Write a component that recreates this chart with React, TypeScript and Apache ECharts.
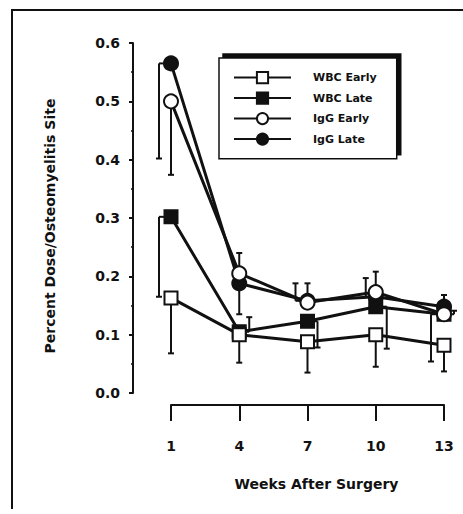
import React, { useEffect, useRef } from "react";
import * as echarts from "echarts";

// Weeks after surgery at which uptake was measured
const weeks = [1, 4, 7, 10, 13];
const xTicks = [1, 4, 7, 10, 13];
const yTicks = [0, 0.1, 0.2, 0.3, 0.4, 0.5, 0.6];

// Mean percent dose at the osteomyelitis site
const wbcEarly = [0.163, 0.1, 0.088, 0.1, 0.082];
const wbcLate = [0.302, 0.105, 0.123, 0.148, 0.135];
const igGEarly = [0.5, 0.205, 0.155, 0.173, 0.135];
const igGLate = [0.565, 0.188, 0.158, 0.165, 0.148];

// One-sided error bar end values
const wbcEarlyErr = [0.068, 0.052, 0.035, 0.045, 0.037];
const wbcLateErr = [0.165, 0.13, 0.078, 0.076, 0.141];
const igGEarlyErr = [0.374, 0.24, 0.188, 0.208, 0.054];
const igGLateErr = [0.402, 0.135, 0.188, 0.197, 0.168];

const INK = "#111";
const FONT = "DejaVu Sans";

// Horizontal pixel shift of each error bar so overlapping bars stay readable
const barShift: Record<string, number[]> = {
  "WBC Early": [0, 0, 0, 0, 0],
  "WBC Late": [-12, 10, 10, 11, 10],
  "IgG Early": [0, 0, 0, 0, -13],
  "IgG Late": [-12, 0, -12, -10, 0],
};

const groups = [
  { name: "WBC Early", values: wbcEarly, err: wbcEarlyErr, symbol: "rect", filled: false },
  { name: "WBC Late", values: wbcLate, err: wbcLateErr, symbol: "rect", filled: true },
  { name: "IgG Early", values: igGEarly, err: igGEarlyErr, symbol: "circle", filled: false },
  { name: "IgG Late", values: igGLate, err: igGLateErr, symbol: "circle", filled: true },
];

// Filled markers sit underneath open ones where they overlap
const drawOrder = ["IgG Late", "WBC Late", "WBC Early", "IgG Early"];

function renderErrorBar(params: any, api: any) {
  const x = api.value(0);
  const v = api.value(1);
  const e = api.value(2);
  const dx = api.value(3);
  const p = api.coord([x, v]);
  const q = api.coord([x, e]);
  const bx = p[0] + dx;
  const style = { stroke: INK, lineWidth: 2, fill: null };
  const children: any[] = [
    { type: "line", shape: { x1: bx, y1: p[1], x2: bx, y2: q[1] }, style },
    { type: "line", shape: { x1: bx - 3, y1: q[1], x2: bx + 3, y2: q[1] }, style },
  ];
  if (dx !== 0) {
    children.push({ type: "line", shape: { x1: p[0], y1: p[1], x2: bx, y2: p[1] }, style });
  }
  return { type: "group", children };
}

export default function App() {
  const ref = useRef<HTMLDivElement>(null);

  useEffect(() => {
    if (!ref.current) return;
    const chart = echarts.init(ref.current, null, { renderer: "svg" });

    const ordered = drawOrder.map((n) => groups.find((g) => g.name === n)!);

    const lineSeries = ordered.map((g) => ({
      name: g.name,
      type: "line",
      xAxisIndex: 0,
      yAxisIndex: 0,
      data: weeks.map((w, i) => [w, g.values[i]]),
      symbol: g.symbol,
      symbolSize: g.symbol === "rect" ? 13 : 14,
      showSymbol: true,
      z: 3,
      lineStyle: { color: INK, width: 3 },
      itemStyle: {
        color: g.filled ? INK : "#fff",
        borderColor: INK,
        borderWidth: 2,
      },
    }));

    const errSeries = groups.map((g) => ({
      name: g.name + " error",
      type: "custom",
      xAxisIndex: 0,
      yAxisIndex: 0,
      z: 2,
      silent: true,
      renderItem: renderErrorBar,
      encode: { x: 0, y: [1, 2] },
      data: weeks.map((w, i) => [w, g.values[i], g.err[i], barShift[g.name][i]]),
    }));

    chart.setOption({
      animation: false,
      backgroundColor: "#fff",
      grid: [
        { left: 133, right: 5.35, top: 43, height: 350 },
        { left: 171, right: 19, top: 404, height: 1 },
      ],
      xAxis: [
        {
          type: "value",
          gridIndex: 0,
          min: -0.67,
          max: 13.6,
          show: false,
        },
        {
          type: "value",
          gridIndex: 1,
          min: 1,
          max: 13,
          interval: 3,
          axisLine: { show: true, onZero: false, lineStyle: { color: INK, width: 2 } },
          axisTick: { show: true, length: 16, lineStyle: { color: INK, width: 2 } },
          splitLine: { show: false },
          axisLabel: {
            margin: 34,
            color: INK,
            fontFamily: FONT,
            fontWeight: "bold",
            fontSize: 14,
            customValues: xTicks,
          },
          name: "Weeks After Surgery",
          nameLocation: "middle",
          nameGap: 72,
          nameTextStyle: {
            color: INK,
            fontFamily: FONT,
            fontWeight: "bold",
            fontSize: 14,
            padding: [0, 0, 0, 18],
          },
        },
      ],
      yAxis: [
        {
          type: "value",
          gridIndex: 0,
          min: 0,
          max: 0.6,
          interval: 0.1,
          axisLine: { show: true, onZero: false, lineStyle: { color: INK, width: 2 } },
          axisTick: { show: true, length: 4, lineStyle: { color: INK, width: 2 } },
          minorTick: { show: true, splitNumber: 2, length: 2, lineStyle: { color: INK, width: 1.5 } },
          splitLine: { show: false },
          axisLabel: {
            margin: 13,
            color: INK,
            fontFamily: FONT,
            fontWeight: "bold",
            fontSize: 14,
            formatter: (v: number) => v.toFixed(1),
            customValues: yTicks,
          },
          name: "Percent Dose/Osteomyelitis Site",
          nameLocation: "middle",
          nameRotate: 90,
          nameGap: 76,
          nameTextStyle: {
            color: INK,
            fontFamily: FONT,
            fontWeight: "bold",
            fontSize: 14,
            padding: [0, 16, 0, 0],
          },
        },
        { type: "value", gridIndex: 1, show: false },
      ],
      legend: {
        data: groups.map((g) => g.name),
        orient: "vertical",
        left: 219,
        top: 58,
        itemWidth: 57,
        itemHeight: 14,
        itemGap: 7.3,
        padding: [13, 20, 13, 14],
        backgroundColor: "#fff",
        borderColor: INK,
        borderWidth: 1.5,
        shadowColor: INK,
        shadowBlur: 0,
        shadowOffsetX: 4,
        shadowOffsetY: -4,
        selectedMode: false,
        z: 6,
        textStyle: {
          color: INK,
          fontFamily: FONT,
          fontWeight: "bold",
          fontSize: 11,
          padding: [0, 0, 0, 17],
        },
      },
      graphic: [
        {
          type: "polyline",
          shape: { points: [[12, 509], [12, 10], [463, 10]] },
          style: { stroke: INK, lineWidth: 2, fill: null },
          silent: true,
        },
      ],
      series: [...errSeries, ...lineSeries],
    });

    return () => chart.dispose();
  }, []);

  return (
    <div
      ref={ref}
      style={{ position: "fixed", left: 0, top: 0, width: 463, height: 514 }}
    />
  );
}
